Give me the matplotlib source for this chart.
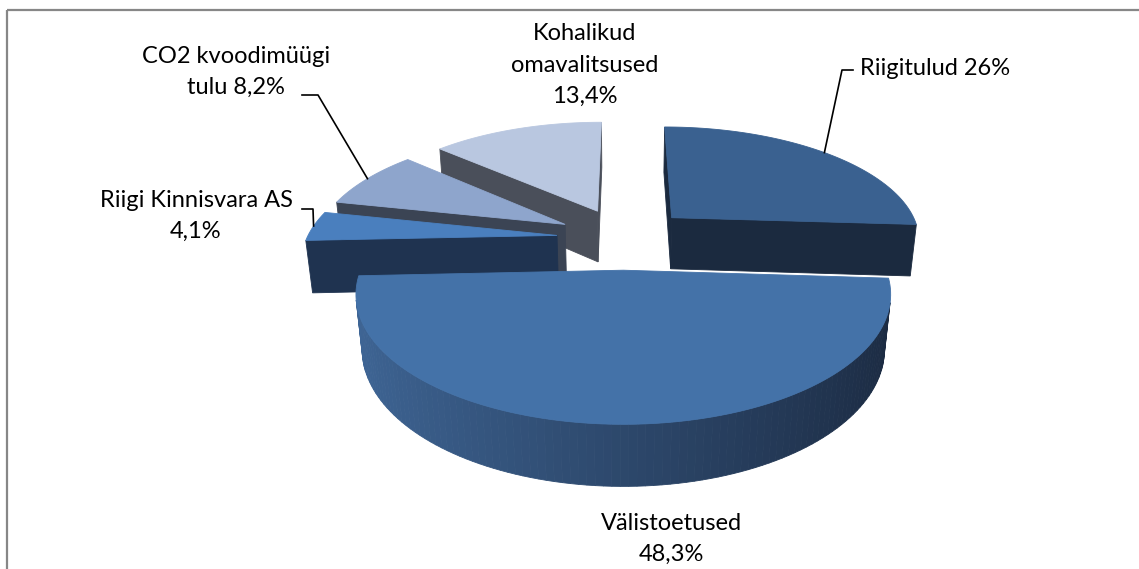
import numpy as np
import matplotlib.pyplot as plt
from matplotlib.patches import Polygon
import matplotlib.colors as mcolors

# andmed (osakaal, %)
names = ['Riigitulud', 'Välistoetused', 'Riigi Kinnisvara AS',
         'CO2 kvoodimüügi tulu', 'Kohalikud omavalitsused']
shares = [26.0, 48.3, 4.1, 8.2, 13.4]
label_text = ['Riigitulud 26%', 'Välistoetused\n48,3%', 'Riigi Kinnisvara AS\n4,1%',
              'CO2 kvoodimüügi\ntulu 8,2%', 'Kohalikud\nomavalitsused\n13,4%']

# värvid: pealmine pind, lõikepind, külg hele/tume
top_col = ['#3a6190', '#4472a8', '#4a7fbe', '#8ea5cc', '#b9c7e0']
cut_col = ['#1b2a3f', '#1d2c44', '#1f3350', '#3b4454', '#4a4f5a']
wall_light = ['#2e4d74', '#3f6696', '#2f5282', '#5b6f92', '#6f7e99']
wall_dark = ['#1a293d', '#1b2a41', '#1c2e48', '#343f52', '#454b57']

# 3D vaate parameetrid (pikslites)
F, D, elev = 1250.0, 5.0, np.radians(27)
cx, cy = 624.0, 238.0
explode, h = 0.27, 0.24
ce, se = np.cos(elev), np.sin(elev)
cam = np.array([0.0, -D * ce, D * se])


def project(X, Y, Z):
    depth = D + Y * ce - Z * se
    up = Y * se + Z * ce
    return cx + F * X / depth, cy - F * up / depth


def visible(P, n):
    return np.dot(n, cam - np.asarray(P)) > 0


def mix(c1, c2, t):
    a, b = np.array(mcolors.to_rgb(c1)), np.array(mcolors.to_rgb(c2))
    return tuple(a * (1 - t) + b * t)


fig = plt.figure(figsize=(11.39, 5.69), dpi=100)
ax = fig.add_axes([0, 0, 1, 1])
ax.set_xlim(0, 1139)
ax.set_ylim(569, 0)
ax.axis('off')

bounds = np.concatenate([[0], np.cumsum(shares)]) * 3.6
slices = []
for i in range(len(shares)):
    a0, a1 = bounds[i], bounds[i + 1]
    mid = np.radians((a0 + a1) / 2)
    ox, oy = explode * np.sin(mid), explode * np.cos(mid)
    slices.append((oy, i, a0, a1, ox))


def poly(pts, col):
    xy = [project(*p) for p in pts]
    ax.add_patch(Polygon(xy, closed=True, facecolor=col, edgecolor=col, lw=0.6))


# tagumised enne
for oy, i, a0, a1, ox in sorted(slices, key=lambda s: -s[0]):
    th = np.radians(np.linspace(a0, a1, max(int((a1 - a0) / 1.5), 3)))
    rx, ry = ox + np.sin(th), oy + np.cos(th)

    # lõikepinnad
    for ang, start in ((a0, True), (a1, False)):
        r = np.radians(ang)
        if start:
            n = np.array([-np.cos(r), np.sin(r), 0])
        else:
            n = np.array([np.cos(r), -np.sin(r), 0])
        ex, ey = ox + np.sin(r), oy + np.cos(r)
        if visible([(ox + ex) / 2, (oy + ey) / 2, -h / 2], n):
            poly([(ox, oy, 0), (ex, ey, 0), (ex, ey, -h), (ox, oy, -h)], cut_col[i])

    # välisserv
    for k in range(len(th) - 1):
        tm = (th[k] + th[k + 1]) / 2
        n = np.array([np.sin(tm), np.cos(tm), 0])
        if visible([ox + np.sin(tm), oy + np.cos(tm), -h / 2], n):
            t = (1 - np.sin(tm)) / 2
            col = mix(wall_dark[i], wall_light[i], t)
            poly([(rx[k], ry[k], 0), (rx[k + 1], ry[k + 1], 0),
                  (rx[k + 1], ry[k + 1], -h), (rx[k], ry[k], -h)], col)

    # pealmine pind
    poly([(ox, oy, 0)] + list(zip(rx, ry, np.zeros_like(rx))), top_col[i])

# sildid
font = dict(family=['Lato', 'DejaVu Sans'], fontsize=17, color='black',
            ha='center', va='center', linespacing=1.6)
ax.text(935, 68, label_text[0], **font)
ax.text(671, 539, label_text[1], **font)
ax.text(196, 216, label_text[2], **font)
ax.text(236, 72, label_text[3], **font)
ax.text(585, 65, label_text[4], **font)


# juhtjooned
def leader(i, pts):
    a0, a1 = bounds[i], bounds[i + 1]
    mid = np.radians((a0 + a1) / 2)
    ox, oy = explode * np.sin(mid), explode * np.cos(mid)
    px, py = project(ox + np.sin(mid), oy + np.cos(mid), 0)
    xs = [p[0] for p in pts] + [px]
    ys = [p[1] for p in pts] + [py]
    ax.plot(xs, ys, color='black', lw=1.2)


leader(0, [(853, 70), (842, 70)])
leader(3, [(302, 95), (318, 95)])
leader(2, [(302, 209), (313, 209)])

# raam
ax.plot([7, 7], [569, 10], color='#878787', lw=1.6, solid_capstyle='butt')
ax.plot([7, 1139], [10, 10], color='#878787', lw=1.6, solid_capstyle='butt')

fig.savefig('out.png', dpi=100)
